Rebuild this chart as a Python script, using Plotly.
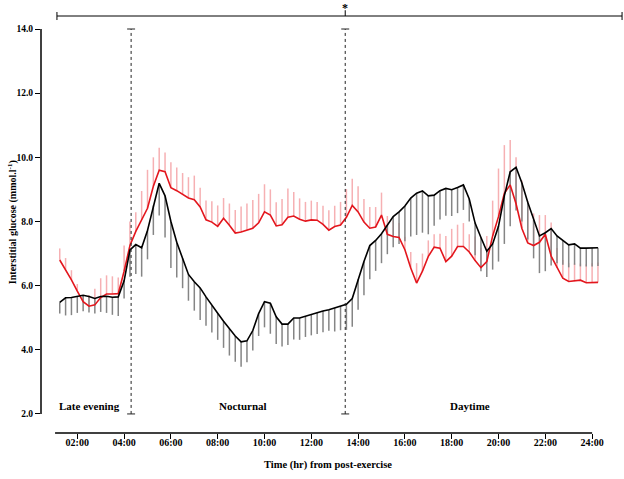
import plotly.graph_objects as go

# ---- data (15-min samples from 01:15 to 24:15) ----
times = [1.25 + 0.25 * i for i in range(93)]

black_mean = [
    5.48, 5.62, 5.63, 5.67,  5.70, 5.66, 5.60, 5.66,  5.67, 5.64, 5.65, 6.15,
    7.11, 7.28, 7.18, 7.72,  8.50, 9.19, 8.80, 8.00,  7.35, 6.85, 6.35, 6.12,
    5.93, 5.65, 5.38, 5.14,  4.89, 4.65, 4.43, 4.25,  4.28, 4.60, 5.13, 5.50,
    5.45, 5.03, 4.80, 4.80,  4.99, 4.99, 5.05, 5.10,  5.16, 5.21, 5.25, 5.30,
    5.36, 5.42, 5.60, 6.20,  6.75, 7.25, 7.41, 7.62,  7.88, 8.15, 8.30, 8.48,
    8.73, 8.88, 8.95, 8.80,  8.82, 8.96, 9.03, 8.99,  9.06, 9.14, 8.70, 7.95,
    7.50, 7.07, 7.30, 7.85,  8.80, 9.55, 9.69, 9.20,  8.60, 8.05, 7.55, 7.65,
    7.78, 7.55, 7.40, 7.27,  7.30, 7.17, 7.17, 7.17,  7.18,
]
black_sd = [
    0.35, 0.55, 0.55, 0.52,  0.50, 0.50, 0.47, 0.48,  0.52, 0.55, 0.60, 0.55,
    0.83, 0.92, 0.90, 0.90,  0.92, 1.00, 1.30, 1.45,  1.10, 0.93, 0.82, 0.90,
    1.00, 0.90, 0.84, 0.83,  0.83, 0.83, 0.80, 0.78,  0.67, 0.62, 0.70, 0.80,
    0.95, 0.85, 0.70, 0.65,  0.67, 0.68, 0.65, 0.65,  0.67, 0.66, 0.66, 0.73,
    0.75, 0.80, 0.88, 0.95,  1.05, 1.05, 0.95, 0.92,  0.90, 0.95, 1.00, 1.10,
    1.20, 1.30, 1.30, 1.20,  0.95, 0.90, 0.85, 0.82,  0.80, 0.78, 0.70, 1.00,
    1.05, 0.80, 0.80, 1.10,  1.50, 1.70, 1.35, 1.20,  1.16, 1.20, 1.16, 1.20,
    1.15, 0.85, 0.75, 0.70,  0.65, 0.57, 0.57, 0.57,  0.57,
]
red_mean = [
    6.80, 6.50, 6.18, 5.83,  5.50, 5.36, 5.40, 5.63,  5.74, 5.74, 5.75, 6.45,
    7.25, 7.69, 8.05, 8.41,  9.10, 9.60, 9.55, 9.05,  8.96, 8.84, 8.73, 8.68,
    8.45, 8.05, 7.98, 7.85,  8.10, 7.88, 7.64, 7.67,  7.74, 7.79, 7.96, 8.30,
    8.20, 7.86, 7.90, 8.13,  8.17, 8.07, 8.01, 8.05,  8.04, 7.91, 7.73, 7.84,
    7.89, 8.13, 8.50, 8.30,  7.98, 7.79, 7.83, 8.20,  7.60, 7.53, 7.50, 7.12,
    6.55, 6.08, 6.45, 6.91,  7.20, 7.17, 6.75, 6.92,  7.22, 7.22, 7.05, 6.78,
    6.56, 6.75, 7.55, 8.15,  8.88, 9.14, 8.55, 7.78,  7.33, 7.25, 7.35, 7.60,
    6.92, 6.55, 6.23, 6.13,  6.14, 6.17, 6.09, 6.10,  6.10,
]
red_sd = [
    0.36, 0.36, 0.30, 0.22,  0.20, 0.35, 0.50, 0.60,  0.58, 0.55, 0.50, 0.80,
    0.75, 0.60, 0.90, 1.20,  0.90, 0.70, 0.60, 0.80,  0.72, 0.67, 0.65, 0.75,
    0.60, 0.60, 0.65, 0.65,  0.63, 0.68, 0.72, 0.80,  0.82, 0.88, 0.90, 0.86,
    0.80, 0.74, 0.80, 0.90,  0.75, 0.65, 0.60, 0.60,  0.57, 0.58, 0.62, 0.65,
    0.72, 0.88, 0.83, 0.80,  0.72, 0.66, 0.62, 0.70,  0.57, 0.50, 0.45, 0.40,
    0.50, 0.62, 0.55, 0.50,  0.40, 0.45, 0.80, 0.85,  0.68, 0.73, 0.55, 0.75,
    0.62, 0.80, 1.10, 1.50,  1.50, 1.40, 1.45, 1.50,  1.30, 1.00, 0.85, 0.60,
    1.05, 0.62, 0.57, 0.57,  0.55, 0.52, 0.58, 0.60,  0.62,
]

x_tick_vals = [2, 4, 6, 8, 10, 12, 14, 16, 18, 20, 22, 24]
x_tick_text = ["02:00", "04:00", "06:00", "08:00", "10:00", "12:00",
               "14:00", "16:00", "18:00", "20:00", "22:00", "24:00"]
y_tick_vals = [2, 4, 6, 8, 10, 12, 14]
y_tick_text = ["2.0", "4.0", "6.0", "8.0", "10.0", "12.0", "14.0"]

phase_bounds = [4.3, 13.45]
phase_labels = [("Late evening", 2.54), ("Nocturnal", 9.08), ("Daytime", 18.78)]

FONT = "Liberation Serif"
zeros = [0] * len(times)

fig = go.Figure()
fig.add_trace(go.Scatter(
    x=times, y=red_mean, mode="markers",
    marker=dict(size=1, color="rgba(0,0,0,0)"),
    error_y=dict(type="data", symmetric=False, array=red_sd, arrayminus=zeros,
                 color="#f6b0b3", thickness=1.5, width=0),
    hoverinfo="skip", showlegend=False))
fig.add_trace(go.Scatter(
    x=times, y=black_mean, mode="markers",
    marker=dict(size=1, color="rgba(0,0,0,0)"),
    error_y=dict(type="data", symmetric=False, array=zeros, arrayminus=black_sd,
                 color="#858585", thickness=1.5, width=0),
    hoverinfo="skip", showlegend=False))
fig.add_trace(go.Scatter(x=times, y=red_mean, mode="lines",
                         line=dict(color="#e3161d", width=1.6), showlegend=False))
fig.add_trace(go.Scatter(x=times, y=black_mean, mode="lines",
                         line=dict(color="#000000", width=1.6), showlegend=False))

shapes = []
# axis lines
shapes.append(dict(type="line", xref="x", yref="paper", x0=1.05, x1=24.0, y0=0, y1=0,
                   line=dict(color="black", width=1.5)))
shapes.append(dict(type="line", xref="paper", yref="y", x0=0, x1=0, y0=2, y1=14,
                   line=dict(color="black", width=1.5)))
# phase boundaries (dotted with caps)
for b in phase_bounds:
    shapes.append(dict(type="line", xref="x", yref="y", x0=b, x1=b, y0=2, y1=14,
                       line=dict(color="#222222", width=1, dash="dot")))
    for yy in (2, 14):
        shapes.append(dict(type="line", xref="x", yref="y", x0=b - 0.17, x1=b + 0.17,
                           y0=yy, y1=yy, line=dict(color="#222222", width=1)))
# significance bracket
by = 14.405
shapes.append(dict(type="line", xref="x", yref="y", x0=1.13, x1=25.28, y0=by, y1=by,
                   line=dict(color="black", width=1)))
for xx in (1.13, 25.28):
    shapes.append(dict(type="line", xref="x", yref="y", x0=xx, x1=xx, y0=by - 0.125, y1=by + 0.125,
                       line=dict(color="black", width=1)))
shapes.append(dict(type="line", xref="x", yref="y", x0=phase_bounds[1], x1=phase_bounds[1],
                   y0=by, y1=by + 0.18, line=dict(color="black", width=1)))

annotations = [
    dict(x=phase_bounds[1], y=1.0, xref="x", yref="paper", text="<b>*</b>", showarrow=False,
         font=dict(family=FONT, size=12, color="black"), xanchor="center", yanchor="top",
         yshift=1),
    dict(x=-0.0497, y=0.487, xref="paper", yref="paper",
         text="<b>Interstitial glucose (mmol.l<sup>-1</sup>)</b>", textangle=-90, showarrow=False,
         font=dict(family=FONT, size=10, color="black"), xanchor="center", yanchor="middle"),
    dict(x=0.492, y=-0.074, xref="paper", yref="paper",
         text="<b>Time (hr) from post-exercise</b>", showarrow=False,
         font=dict(family=FONT, size=10.5, color="black"), xanchor="center", yanchor="middle"),
]
for txt, xx in phase_labels:
    annotations.append(dict(x=xx, y=2.25, xref="x", yref="y", text=f"<b>{txt}</b>",
                            showarrow=False, font=dict(family=FONT, size=11, color="black"),
                            xanchor="center", yanchor="middle"))

fig.update_layout(
    width=624, height=479,
    margin=dict(l=41, r=0, t=0, b=46),
    paper_bgcolor="white", plot_bgcolor="white",
    shapes=shapes, annotations=annotations,
    showlegend=False,
    xaxis=dict(range=[0.449, 25.363], showgrid=False, zeroline=False, showline=False,
               ticks="outside", ticklen=5, tickwidth=1, tickcolor="black",
               tickvals=x_tick_vals, ticktext=x_tick_text, ticklabelstandoff=-5,
               tickfont=dict(family=FONT, size=10, color="black", weight="bold")),
    yaxis=dict(range=[1.406, 14.904], showgrid=False, zeroline=False, showline=False,
               ticks="outside", ticklen=5, tickwidth=1, tickcolor="black",
               tickvals=y_tick_vals, ticktext=y_tick_text,
               tickfont=dict(family=FONT, size=9.5, color="black", weight="bold")),
)

fig.write_html("out.html", config={"displayModeBar": False},
               post_script="document.body.style.margin='0';")
